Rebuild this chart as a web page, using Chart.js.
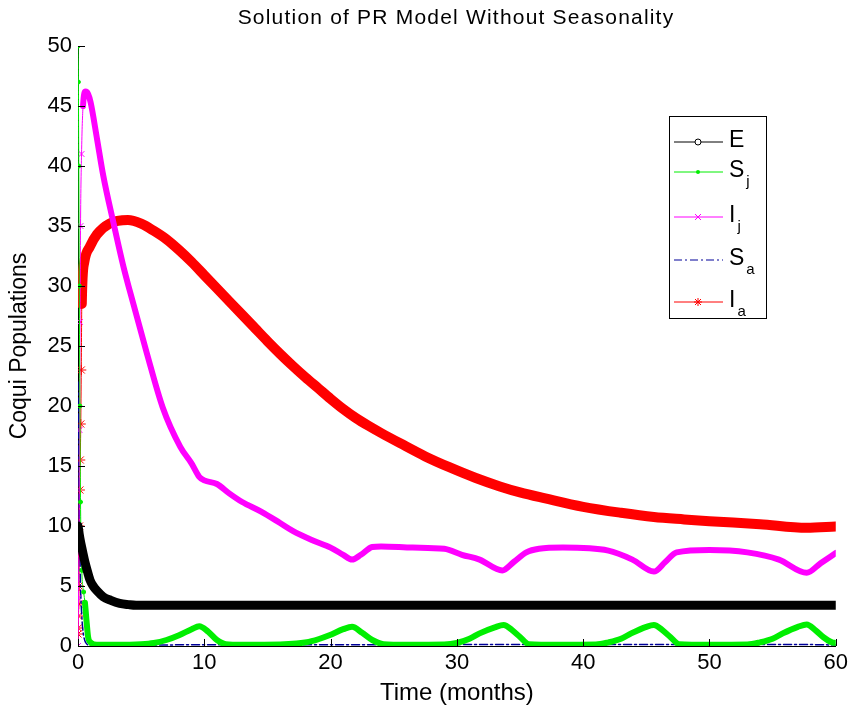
<!DOCTYPE html>
<html>
<head>
<meta charset="utf-8">
<script src="https://cdn.jsdelivr.net/npm/chart.js@4.4.1/dist/chart.umd.min.js"></script>
<style>
  html, body { margin: 0; padding: 0; background: #ffffff; }
  #wrap { width: 852px; height: 713px; position: relative; }
</style>
</head>
<body>
<div id="wrap"><canvas id="c" width="852" height="713"></canvas></div>
<script>
// ---- Data ----
const chartTitle = 'Solution of PR Model Without Seasonality';
const xTitle = 'Time (months)';
const yTitle = 'Coqui Populations';
const xTicks = [0, 10, 20, 30, 40, 50, 60];
const yTicks = [0, 5, 10, 15, 20, 25, 30, 35, 40, 45, 50];

const seriesNames = ['E', 'S', 'I', 'S', 'I'];
const seriesSubs  = ['',  'j', 'j', 'a', 'a'];

// E (eggs)
const tE = [0, 0.05, 0.1, 0.2, 0.3, 0.4, 0.55, 0.7, 0.95, 1.2, 1.5, 2.0, 2.6, 3.3, 4.0, 4.6, 5.5, 60];
const E  = [10, 9.7, 9.3, 8.7, 8.2, 7.7, 7.0, 6.4, 5.5, 5.0, 4.6, 4.1, 3.8, 3.55, 3.45, 3.4, 3.4, 3.4];

// S_j
const tSj = [0, 0.03, 0.06, 0.1, 0.15, 0.2, 0.3, 0.45, 0.55, 0.7, 0.8, 1.0, 1.5, 3, 5, 6, 7, 8, 9, 9.6, 10.3, 11, 11.7, 13, 16, 17.3, 18.5, 19.9, 21, 21.7, 22.5, 23.3, 24.2, 26, 29, 30, 31, 31.8, 33, 33.7, 34.4, 35, 35.7, 38, 41, 42, 43, 43.8, 45, 45.6, 46.3, 46.9, 47.6, 50, 53, 54, 55, 55.8, 57, 57.7, 58.4, 59, 59.7, 60];
const Sj  = [50, 47, 40, 30, 20, 12, 6.3, 4.5, 3.6, 1.8, 0.75, 0.3, 0.1, 0.1, 0.15, 0.25, 0.5, 0.9, 1.4, 1.65, 1.2, 0.5, 0.15, 0.1, 0.12, 0.2, 0.4, 0.9, 1.4, 1.6, 1.1, 0.5, 0.15, 0.1, 0.12, 0.25, 0.6, 1.05, 1.55, 1.75, 1.3, 0.75, 0.15, 0.1, 0.12, 0.3, 0.6, 1.05, 1.6, 1.75, 1.3, 0.75, 0.15, 0.1, 0.12, 0.3, 0.6, 1.05, 1.6, 1.8, 1.3, 0.75, 0.3, 0.25];

// I_j
const tIj = [0, 0.04, 0.08, 0.12, 0.16, 0.2, 0.28, 0.4, 0.6, 0.8, 1.0, 1.5, 2.0, 2.8, 3.6, 4.1, 5.45, 6.7, 8.1, 9.0, 9.6, 10, 11, 12, 13, 14.5, 16, 17, 18.6, 20, 21, 21.7, 22.4, 23.3, 24, 26.5, 29, 30.4, 31.8, 33.6, 34.5, 35.5, 36.5, 38.4, 42, 43.9, 45.6, 46.5, 47.4, 50, 53, 55.5, 57.7, 58.8, 60];
const Ij  = [0, 4, 10, 18, 27, 35, 41, 45, 46.2, 46, 45.3, 42.3, 39.2, 35.3, 31.6, 29.6, 24.4, 19.9, 16.6, 15.2, 14.1, 13.8, 13.5, 12.7, 12, 11.2, 10.25, 9.6, 8.8, 8.2, 7.6, 7.2, 7.6, 8.25, 8.3, 8.2, 8.1, 7.6, 7.2, 6.3, 7.0, 7.8, 8.1, 8.2, 7.95, 7.2, 6.2, 7.0, 7.8, 8.0, 7.8, 7.2, 6.1, 6.9, 7.75];

// S_a
const tSa = [0, 0.05, 0.1, 0.15, 0.2, 0.3, 0.4, 0.6, 1.0, 9.6, 21.7, 33.7, 45.6, 57.7, 60];
const Sa  = [22, 17, 12, 8, 5, 2.5, 1.2, 0.3, 0.05, 0.1, 0.1, 0.12, 0.12, 0.12, 0.08];

// I_a
const tIa = [0, 0.02, 0.04, 0.06, 0.08, 0.1, 0.12, 0.15, 0.18, 0.22, 0.26, 0.3, 0.5, 0.95, 1.5, 2.5, 3.95, 5, 6, 7, 8, 9, 10, 11, 12, 13, 14, 15, 16, 17, 18, 19, 20, 21, 22, 23, 24, 25.5, 27.5, 29.4, 31.5, 33.4, 35, 37, 40, 43, 45.6, 48, 50, 54, 57.7, 60];
const Ia  = [1, 1.5, 2.5, 3.5, 5, 7.5, 10, 13, 15.5, 18.5, 23, 28.5, 32, 33.3, 34.3, 35.2, 35.5, 35.2, 34.6, 33.9, 33.0, 32.0, 30.9, 29.8, 28.7, 27.6, 26.5, 25.4, 24.35, 23.35, 22.4, 21.5, 20.6, 19.75, 19.0, 18.35, 17.75, 16.9, 15.8, 14.9, 14.0, 13.3, 12.8, 12.3, 11.6, 11.1, 10.75, 10.55, 10.4, 10.15, 9.85, 9.95];

// ---- Build chart ----
const FONT = "'Liberation Sans', Arial, Helvetica, sans-serif";
function pts(t, v) {
  const n = Math.min(t.length, v.length);
  const out = [];
  for (let i = 0; i < n; i++) out.push({ x: t[i], y: v[i] });
  return out;
}
function makeSet(label, t, v, color, thick, thr, pStyle, pRadius, pFill, extra) {
  return Object.assign({
    label: label,
    data: pts(t, v),
    showLine: true,
    borderColor: color,
    backgroundColor: color,
    borderWidth: thick,
    cubicInterpolationMode: 'monotone',
    borderCapStyle: 'round',
    borderJoinStyle: 'round',
    segment: {
      borderWidth: ctx => (ctx.p0.parsed.x < thr ? 1 : thick)
    },
    pointStyle: pStyle,
    pointRadius: ctx => (ctx.raw && ctx.raw.x < thr ? pRadius : 0),
    pointBorderColor: color,
    pointBackgroundColor: pFill,
    pointBorderWidth: 1,
    pointHoverRadius: 0
  }, extra || {});
}

const datasets = [
  makeSet('E', tE, E, '#000000', 9, -1, 'circle', 3, '#ffffff'),
  makeSet('Sj', tSj, Sj, '#00ee00', 6, 0.5, 'circle', 2, '#00ee00'),
  makeSet('Ij', tIj, Ij, '#ff00ff', 6, 0.4, 'crossRot', 4, '#ff00ff'),
  makeSet('Sa', tSa, Sa, '#000099', 1.5, -1, 'circle', 0, '#000099', { borderDash: [8, 3, 2, 3], segment: {} }),
  makeSet('Ia', tIa, Ia, '#ff0000', 10, 0.28, 'star', 5, '#ff0000')
];

// Inward MATLAB-like ticks, title and legend
const decor = {
  id: 'decor',
  afterDraw(chart) {
    const c = chart.ctx;
    const xs = chart.scales.x, ys = chart.scales.y;
    const area = chart.chartArea;
    c.save();
    c.strokeStyle = '#000';
    c.lineWidth = 1;
    xTicks.forEach(v => {
      const px = Math.round(xs.getPixelForValue(v)) + 0.5;
      c.beginPath(); c.moveTo(px, area.bottom); c.lineTo(px, area.bottom - 7); c.stroke();
    });
    yTicks.forEach(v => {
      const py = Math.round(ys.getPixelForValue(v)) + 0.5;
      c.beginPath(); c.moveTo(area.left, py); c.lineTo(area.left + 7, py); c.stroke();
    });

    // Title
    c.fillStyle = '#000';
    c.font = '21px ' + FONT;
    try { c.letterSpacing = '1.2px'; } catch (e) {}
    c.textAlign = 'center';
    c.textBaseline = 'middle';
    c.fillText(chartTitle, 456, 18);
    try { c.letterSpacing = '0px'; } catch (e) {}

    // Legend box
    const bx = 669.5, by = 116.5, bw = 97, bh = 202;
    c.fillStyle = '#fff';
    c.fillRect(bx, by, bw, bh);
    c.strokeStyle = '#000';
    c.lineWidth = 1;
    c.strokeRect(bx, by, bw, bh);
    const rowY = [142, 172, 217, 260, 302];
    const colors = ['#000000', '#00ee00', '#ff00ff', '#000099', '#ff0000'];
    const x0 = 674, x1 = 723, xm = 698;
    for (let i = 0; i < 5; i++) {
      const y = rowY[i];
      c.strokeStyle = colors[i];
      c.lineWidth = 1;
      c.setLineDash(i === 3 ? [8, 3, 2, 3] : []);
      c.beginPath(); c.moveTo(x0, y); c.lineTo(x1, y); c.stroke();
      c.setLineDash([]);
      if (i === 0) {
        c.fillStyle = '#fff';
        c.beginPath(); c.arc(xm, y, 3, 0, Math.PI * 2); c.fill(); c.stroke();
      } else if (i === 1) {
        c.fillStyle = colors[i];
        c.beginPath(); c.arc(xm, y, 2, 0, Math.PI * 2); c.fill();
      } else if (i === 2) {
        c.beginPath();
        c.moveTo(xm - 3, y - 3); c.lineTo(xm + 3, y + 3);
        c.moveTo(xm - 3, y + 3); c.lineTo(xm + 3, y - 3);
        c.stroke();
      } else if (i === 4) {
        c.beginPath();
        c.moveTo(xm - 4, y); c.lineTo(xm + 4, y);
        c.moveTo(xm, y - 4); c.lineTo(xm, y + 4);
        c.moveTo(xm - 3, y - 3); c.lineTo(xm + 3, y + 3);
        c.moveTo(xm - 3, y + 3); c.lineTo(xm + 3, y - 3);
        c.stroke();
      }
      c.fillStyle = '#000';
      c.textAlign = 'left';
      c.textBaseline = 'alphabetic';
      c.font = '23px ' + FONT;
      c.fillText(seriesNames[i], 729, y + 5);
      if (seriesSubs[i]) {
        const w = c.measureText(seriesNames[i]).width;
        c.font = '15px ' + FONT;
        c.fillText(seriesSubs[i], 729 + w + 2, y + 14);
      }
    }
    c.restore();
  }
};

new Chart(document.getElementById('c'), {
  type: 'scatter',
  data: { datasets: datasets },
  options: {
    responsive: false,
    animation: false,
    events: [],
    layout: { padding: { left: 0, right: 14, top: 46, bottom: 0 } },
    plugins: {
      legend: { display: false },
      tooltip: { enabled: false },
      title: { display: false }
    },
    scales: {
      x: {
        type: 'linear',
        min: 0, max: 60,
        afterFit(s) { s.height = 67; },
        afterBuildTicks(s) { s.ticks = xTicks.map(v => ({ value: v })); },
        grid: { display: false, drawTicks: false },
        border: { display: true, color: '#000', width: 1 },
        ticks: { color: '#000', font: { family: FONT, size: 22 }, padding: 4, maxRotation: 0 },
        title: { display: true, text: xTitle, color: '#000', font: { family: FONT, size: 24 }, padding: { top: 0, bottom: 5 } }
      },
      y: {
        type: 'linear',
        min: 0, max: 50,
        afterFit(s) { s.width = 78; },
        afterBuildTicks(s) { s.ticks = yTicks.map(v => ({ value: v })); },
        grid: { display: false, drawTicks: false },
        border: { display: true, color: '#000', width: 1 },
        ticks: { color: '#000', font: { family: FONT, size: 22 }, padding: 6 },
        title: { display: true, text: yTitle, color: '#000', font: { family: FONT, size: 23 }, padding: { top: 6, bottom: 0 } }
      }
    }
  },
  plugins: [decor]
});
</script>
</body>
</html>
